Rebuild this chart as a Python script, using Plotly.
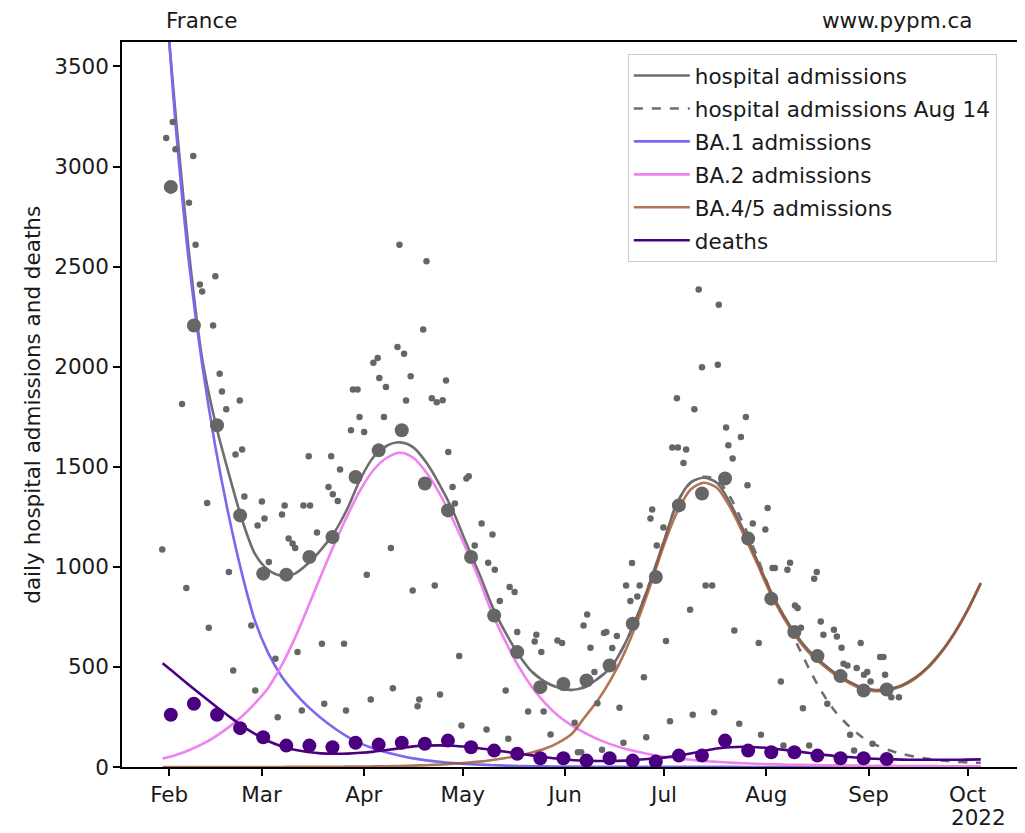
import pandas as pd
import plotly.graph_objects as go

BASE = pd.Timestamp("2022-02-01")

# ---- model curves (days since Feb 1) ----
curve_days = [-2, 2, 6, 10, 14, 18, 22, 26, 30, 34, 38, 42, 46, 50, 54, 58, 62, 66, 70, 74,
              78, 82, 86, 90, 94, 98, 102, 106, 110, 114, 118, 122, 126, 130, 134, 138, 142,
              146, 150, 154, 158, 162, 166, 170, 174, 178, 182, 186, 190, 194, 198, 202, 206,
              210, 214, 218, 222, 226, 230, 234, 238, 242, 246]

total_adm = [4000, 3250, 2570, 2040, 1720, 1470, 1240, 1065, 985, 955, 965, 1015, 1085, 1170,
             1290, 1440, 1550, 1605, 1622, 1597, 1520, 1410, 1280, 1120, 965, 800, 670, 560,
             475, 425, 396, 385, 400, 442, 500, 610, 760, 935, 1130, 1320, 1420, 1445, 1420,
             1320, 1185, 1040, 890, 765, 662, 580, 520, 468, 428, 398, 385, 390, 408, 445, 500,
             575, 670, 785, 920]

ba1_adm = [4100, 3200, 2520, 2010, 1600, 1260, 970, 730, 570, 455, 372, 303, 245, 195, 152,
           118, 92, 72, 56, 43, 33, 26, 20, 15, 12, 9, 7, 5, 4, 3, 2, 2, 2, 1, 1, 1, 1, 1, 1,
           1, 1, 1, 1, 1, 0, 0, 0, 0, 0, 0, 0, 0, 0, 0, 0, 0, 0, 0, 0, 0, 0, 0, 0]

ba2_adm = [42, 60, 84, 114, 152, 198, 252, 318, 395, 505, 640, 795, 955, 1110, 1255, 1385,
           1485, 1545, 1570, 1545, 1470, 1365, 1235, 1090, 935, 765, 625, 500, 398, 318, 255,
           208, 170, 138, 113, 92, 76, 62, 51, 43, 36, 30, 26, 22, 19, 16, 14, 12, 11, 10, 9,
           8, 7, 7, 6, 6, 5, 5, 5, 4, 4, 4, 4]

ba45_adm = [0, 0, 0, 0, 0, 0, 0, 0, 0, 0, 1, 1, 1, 1, 2, 2, 3, 4, 5, 7, 9, 12, 16, 21, 27,
            35, 45, 57, 72, 92, 122, 165, 250, 335, 440, 570, 730, 915, 1110, 1275, 1385,
            1420, 1395, 1298, 1166, 1024, 876, 753, 651, 570, 511, 460, 421, 391, 379, 384,
            403, 440, 495, 571, 666, 781, 916]

deaths_model = [518, 465, 410, 357, 305, 255, 207, 165, 130, 104, 86, 75, 68, 66, 67, 71, 77,
                85, 94, 103, 107, 108, 106, 101, 94, 85, 76, 67, 58, 49, 41, 35, 32, 30, 30,
                32, 36, 41, 47, 56, 67, 80, 92, 99, 101, 99, 94, 87, 79, 70, 62, 55, 50, 45,
                41, 39, 37, 36, 36, 36, 36, 37, 38]

aug14_days = [110, 114, 118, 122, 126, 130, 134, 138, 142, 146, 150, 154, 158, 162, 166, 170,
              174, 178, 182, 186, 190, 194, 198, 202, 206, 210, 214, 218, 222, 226, 230, 234,
              238, 242, 246]
aug14_adm = [475, 425, 396, 385, 400, 442, 500, 610, 760, 935, 1130, 1320, 1420, 1450, 1435,
             1350, 1215, 1060, 890, 762, 625, 490, 370, 275, 205, 150, 112, 85, 66, 52, 41, 33,
             27, 23, 21]

# ---- weekly averages ----
week_days = [0.5, 7.5, 14.5, 21.5, 28.5, 35.5, 42.5, 49.5, 56.5, 63.5, 70.5, 77.5, 84.5, 91.5,
             98.5, 105.5, 112.5, 119.5, 126.5, 133.5, 140.5, 147.5, 154.5, 161.5, 168.5,
             175.5, 182.5, 189.5, 196.5, 203.5, 210.5, 217.5]
week_adm = [2898, 2206, 1707, 1257, 966, 961, 1049, 1149, 1449, 1582, 1682, 1416, 1282, 1049,
            757, 574, 399, 415, 432, 507, 716, 949, 1307, 1366, 1441, 1141, 841, 674, 554, 454,
            382, 387]
week_deaths = [261, 316, 261, 194, 149, 107, 107, 99, 121, 112, 121, 116, 132, 99, 82, 66, 44,
               44, 32, 44, 32, 27, 57, 57, 132, 82, 74, 74, 57, 44, 44, 40]

# ---- daily admissions ----
daily_days = [-2.1, -0.9, 1.1, 1.9, 3.9, 5.2, 6.0, 7.3, 8.0, 9.3, 10.0, 11.5, 12.0, 13.3, 14.0,
              15.3, 16.0, 17.3, 18.1, 19.4, 20.1, 21.4, 22.1, 22.8, 24.9, 26.1, 26.8, 28.1,
              28.9, 30.2, 32.2, 32.9, 34.2, 35.0, 36.2, 37.4, 38.2, 38.9, 40.2, 40.7, 42.3,
              42.7, 44.8, 46.3, 47.0, 48.3, 49.1, 49.6, 51.1, 51.8, 53.0, 53.6, 55.1, 55.7,
              57.1, 57.7, 59.1, 59.9, 61.1, 61.9, 63.2, 63.7, 65.1, 65.7, 67.2, 67.8, 69.2,
              69.8, 71.2, 71.8, 73.2, 73.8, 75.3, 75.8, 77.0, 78.0, 79.6, 80.5, 81.1, 82.1,
              82.9, 83.9, 84.6, 85.9, 86.6, 87.9, 88.6, 90.1, 90.8, 92.6, 94.7, 96.2, 96.7,
              98.0, 98.7, 100.2, 102.0, 102.8, 103.2, 104.7, 105.5, 108.8, 110.8, 111.3,
              112.8, 113.5, 115.6, 117.7, 119.1, 122.9, 123.9, 124.9, 125.6, 126.7, 127.7,
              128.9, 129.8, 131.2, 131.8, 132.5, 134.3, 135.7, 136.5, 137.7, 138.5, 139.8,
              140.3, 141.9, 142.6, 143.9, 144.6, 145.9, 146.4, 147.8, 149.8, 150.6, 151.8,
              152.5, 153.9, 154.2, 155.9, 156.7, 157.9, 158.7, 159.2, 160.5, 161.5, 162.6,
              164.6, 165.2, 166.3, 166.6, 168.8, 169.5, 170.8, 171.3, 172.8, 173.3, 174.8,
              175.3, 176.9, 178.7, 179.4, 180.7, 181.4, 182.9, 183.6, 185.4, 186.2, 187.4,
              188.2, 189.7, 190.5, 191.5, 192.1, 194.0, 195.5, 196.3, 197.5, 198.3, 199.5,
              201.5, 202.4, 203.8, 204.4, 205.6, 206.4, 207.6, 208.4, 209.6, 210.6, 211.6,
              212.6, 213.2, 215.5, 216.5, 217.0, 218.9, 221.2]
daily_adm = [1086, 3142, 3222, 3086, 1814, 894, 2819, 3052, 2609, 2411, 2376, 1319, 696, 2206,
             2452, 1964, 1876, 1787, 974, 482, 1561, 1831, 1586, 1352, 707, 382, 1207, 1327,
             1241, 1024, 541, 249, 1262, 1307, 1141, 1116, 1094, 574, 282, 1307, 1552, 1307,
             1171, 616, 316, 1399, 1552, 1362, 1329, 1486, 616, 282, 1682, 1886, 1886, 1749,
             1674, 961, 337, 2019, 2043, 1943, 1749, 1898, 1094, 394, 2098, 2609, 2064, 1831,
             1952, 882, 304, 337, 2186, 2527, 1842, 907, 1822, 362, 1832, 1931, 1574, 1399,
             1316, 554, 207, 1441, 1452, 1107, 1216, 187, 1021, 1162, 986, 829, 382, 141, 899,
             874, 674, 277, 627, 661, 574, 277, 162, 632, 619, 221, 74, 74, 707, 762, 596, 474,
             319, 86, 669, 674, 594, 654, 296, 121, 907, 829, 1019, 852, 907, 449, 149, 1241,
             1286, 1107, 1196, 629, 229, 1596, 1842, 1596, 1519, 1586, 786, 261, 1787, 2386,
             1997, 907, 907, 274, 2009, 2309, 1696, 1607, 1541, 682, 216, 1649, 1749, 1407,
             1216, 619, 161, 1186, 1294, 994, 994, 427, 107, 986, 1021, 807, 794, 696, 294, 107,
             941, 974, 727, 661, 316, 686, 652, 596, 516, 507, 161, 82, 494, 619, 461, 474, 427,
             116, 549, 549, 461, 349, 349]

month_ticks = ["2022-02-01", "2022-03-01", "2022-04-01", "2022-05-01", "2022-06-01",
               "2022-07-01", "2022-08-01", "2022-09-01", "2022-10-01"]
month_labels = ["Feb", "Mar", "Apr", "May", "Jun", "Jul", "Aug", "Sep", "Oct"]
y_ticks = [0, 500, 1000, 1500, 2000, 2500, 3000, 3500]


def to_dates(days):
    return BASE + pd.to_timedelta(days, unit="D")


FONT = "DejaVu Sans"
FS = 21.5
TXT = "#1a1a1a"
GREY = "#6e6e6e"
DOT = "#666666"

fig = go.Figure()

line_specs = [
    ("hospital admissions", curve_days, total_adm, GREY, "solid"),
    ("hospital admissions Aug 14", aug14_days, aug14_adm, GREY, "dash"),
    ("BA.1 admissions", curve_days, ba1_adm, "#7B68EE", "solid"),
    ("BA.2 admissions", curve_days, ba2_adm, "#EE82EE", "solid"),
    ("BA.4/5 admissions", curve_days, ba45_adm, "rgba(160,82,45,0.8)", "solid"),
    ("deaths", curve_days, deaths_model, "#4B0082", "solid"),
]
for i, (name, d, v, c, dash) in enumerate(line_specs):
    fig.add_trace(go.Scatter(
        x=to_dates(d), y=v, mode="lines", name=name, legendgroup=f"g{i}",
        line=dict(color=c, width=2.6, dash=dash, shape="spline", smoothing=0.8),
    ))

fig.add_trace(go.Scatter(x=to_dates(daily_days), y=daily_adm, mode="markers", showlegend=False,
                         marker=dict(color=DOT, size=6.5, line=dict(width=0))))
fig.add_trace(go.Scatter(x=to_dates(week_days), y=week_adm, mode="markers", showlegend=False,
                         marker=dict(color=DOT, size=14, line=dict(width=0))))
fig.add_trace(go.Scatter(x=to_dates(week_days), y=week_deaths, mode="markers", showlegend=False,
                         marker=dict(color="#4B0082", size=14, line=dict(width=0))))

axis_common = dict(showgrid=False, zeroline=False, showline=True, linecolor="#000000",
                   linewidth=1.5, mirror=True, ticks="outside", ticklen=7, tickwidth=1.5,
                   tickcolor="#000000", tickfont=dict(family=FONT, size=FS, color=TXT))

# the page body adds an 8px offset, so the figure is 8px smaller than the window
fig.update_layout(
    width=1017, height=825,
    margin=dict(l=114, r=3, t=34, b=66),
    paper_bgcolor="white", plot_bgcolor="white",
    font=dict(family=FONT, size=FS, color=TXT),
    showlegend=True,
    legend=dict(x=0.5633, y=0.9834, xanchor="left", yanchor="top",
                bordercolor="#cccccc", borderwidth=1, bgcolor="rgba(255,255,255,0.85)",
                font=dict(family=FONT, size=FS, color=TXT),
                traceorder="grouped", tracegroupgap=2, itemwidth=56),
    xaxis=dict(type="date",
               range=[BASE + pd.Timedelta(days=-14.3), BASE + pd.Timedelta(days=257.9)],
               tickmode="array", tickvals=month_ticks, ticktext=month_labels, **axis_common),
    yaxis=dict(range=[0, 3622], tickmode="array", tickvals=y_ticks, **axis_common),
    annotations=[
        dict(text="France", xref="paper", yref="paper", x=0.0889, y=1.0112,
             xanchor="center", yanchor="bottom", showarrow=False, borderpad=0,
             font=dict(family=FONT, size=FS, color=TXT)),
        dict(text="www.pypm.ca", xref="paper", yref="paper", x=0.948, y=1.0112,
             xanchor="right", yanchor="bottom", showarrow=False, borderpad=0,
             font=dict(family=FONT, size=FS, color=TXT)),
        dict(text="2022", xref="paper", yref="paper", x=0.987, y=-0.070,
             xanchor="right", yanchor="middle", showarrow=False,
             font=dict(family=FONT, size=FS, color=TXT)),
        dict(text="daily hospital admissions and deaths", xref="paper", yref="paper",
             x=-0.1, y=0.5, xanchor="center", yanchor="middle", textangle=-90,
             showarrow=False, font=dict(family=FONT, size=FS, color=TXT)),
    ],
)

fig.write_html("out.html")
